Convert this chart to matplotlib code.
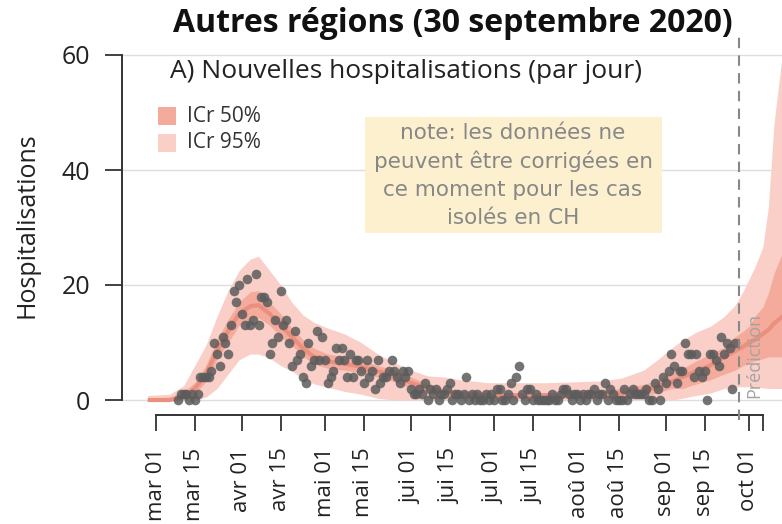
import matplotlib
matplotlib.use("Agg")
import matplotlib.pyplot as plt
import matplotlib.dates as mdates
from matplotlib.patches import Rectangle
import pandas as pd
import numpy as np

# ---------------- data ----------------
obs_start = "2020-03-09"
hosp_obs = [0, 1, 1, 1, 0, 1, 0, 1,
            4, 4, 4, 4, 5, 10, 8, 6, 11, 10, 8, 13, 19, 17, 20, 15, 13, 21, 13, 14, 22, 13,
            18, 18, 17, 8, 10, 14, 11, 19, 13, 14, 10,
            6, 12, 7, 8, 4, 3, 10, 6, 7, 12, 7, 11, 7, 3, 4, 5, 9, 7, 9, 7, 4, 8, 4, 7, 7,
            5, 3, 7, 4, 5, 2, 7, 3, 4, 4, 5, 7, 5, 4, 3, 5, 4, 5, 2, 1, 1, 2, 1, 3, 0, 2, 1, 2, 0,
            1, 1, 2, 3, 0, 1, 1, 0, 1, 4, 0, 1, 0, 1, 0, 0, 1, 0, 1, 0, 2, 2, 0, 0, 1,
            3, 0, 4, 6, 1, 0, 2, 2, 0, 1, 0, 0, 0, 0, 0, 1, 0, 0, 1, 2, 2, 1, 0, 1, 1,
            0, 1, 0, 1, 1, 2, 0, 1,
            1, 3, 0, 2, 1, 0, 0, 0, 2, 0, 1, 2, 1, 1, 1, 1, 2, 0, 0, 3, 2, 0, 4, 3, 5,
            8, 6, 3, 5, 5, 10, 8, 8, 4, 8, 5, 4, 5, 0, 8, 8, 7, 6, 11, 8, 10, 9, 2, 10]

band_dates = ["2020-02-27", "2020-03-06", "2020-03-11", "2020-03-15", "2020-03-19",
              "2020-03-23", "2020-03-27", "2020-03-31", "2020-04-04", "2020-04-07",
              "2020-04-11", "2020-04-15", "2020-04-19", "2020-04-23", "2020-04-27",
              "2020-05-02", "2020-05-08", "2020-05-14", "2020-05-20", "2020-05-26",
              "2020-06-01", "2020-06-07", "2020-06-13", "2020-06-19", "2020-06-29",
              "2020-07-19", "2020-08-08", "2020-08-16", "2020-08-24", "2020-08-29",
              "2020-09-03", "2020-09-07", "2020-09-12", "2020-09-17", "2020-09-22",
              "2020-09-26", "2020-09-29", "2020-10-01", "2020-10-03", "2020-10-06",
              "2020-10-08", "2020-10-10", "2020-10-13", "2020-10-15"]
median = [0, 0, 0.5, 2, 4.5, 8.5, 12, 15, 16.3, 16.5, 15, 13, 11, 9, 7.5,
          6.7, 6.3, 5.8, 5, 4.2, 3, 2, 1.3, 1, 0.8, 0.8, 1.0, 1.2, 1.7, 2.3,
          3.2, 4, 5, 6, 7.5, 8.5, 9.3, 10, 10.4, 11.5, 12.2, 13.3, 14.5, 15.5]
lo50 = [0, 0, 0, 1, 3.2, 7, 10, 13, 14, 14.3, 13, 11, 9.5, 7.6, 6.3,
        5.5, 5.2, 4.7, 4, 3.2, 2, 1.2, 0.7, 0.5, 0.3, 0.3, 0.4, 0.5, 0.8, 1.2,
        2, 2, 2.8, 3.5, 4.5, 5.2, 6, 6.4, 6.8, 7.2, 7.5, 7.5, 7.5, 7.6]
hi50 = [0.3, 0.5, 1.5, 3, 6, 10.5, 14, 17, 18.8, 19, 17, 15, 12.5, 10.5, 9,
        8, 7.5, 7, 6, 5.2, 4, 2.8, 2, 1.6, 1.3, 1.3, 1.6, 2, 2.7, 3.5,
        4.9, 5.5, 6.8, 8, 9.2, 11, 12, 12.8, 14.5, 16.2, 18.6, 22, 25.5, 29]
lo95 = [0, 0, 0, 0, 0.5, 2, 4.5, 7, 8, 8, 7.3, 6, 5, 3.8, 2.8,
        2.2, 1.5, 1, 0.3, 0, 0, 0, 0, 0, 0, 0, 0, 0, 0, 0,
        0, 0.3, 0.8, 1.2, 2, 2.3, 2.3, 2.3, 2.2, 2.1, 2, 2, 2, 2]
hi95 = [0.8, 1.0, 2.5, 6, 9.5, 14.5, 19, 22.5, 24.5, 25, 22.5, 20, 17, 14.8, 13.5,
        12.5, 11.5, 10, 8, 6.5, 5.2, 4.2, 4, 3.5, 3, 3, 3.3, 3.8, 5.2, 7,
        9, 10.4, 11.8, 12.8, 14.5, 16.5, 19, 21, 23, 26.6, 33.6, 48, 60, 70]

tick_dates = ["2020-03-01", "2020-03-15", "2020-04-01", "2020-04-15", "2020-05-01",
              "2020-05-15", "2020-06-01", "2020-06-15", "2020-07-01", "2020-07-15",
              "2020-08-01", "2020-08-15", "2020-09-01", "2020-09-15", "2020-10-01"]
tick_labels = ["mar 01", "mar 15", "avr 01", "avr 15", "mai 01", "mai 15",
               "jui 01", "jui 15", "jul 01", "jul 15", "aoû 01", "aoû 15",
               "sep 01", "sep 15", "oct 01"]
y_ticks = [0, 20, 40, 60]
prediction_date = "2020-09-27 12:00"
axis_end_date = "2020-10-06"

title = "Autres régions (30 septembre 2020)"
subtitle = "A) Nouvelles hospitalisations (par jour)"
ylabel = "Hospitalisations"
note = ["note: les données ne", "peuvent être corrigées en",
        "ce moment pour les cas", "isolés en CH"]

# ---------------- style ----------------
C95 = "#f9cfc8"
C50 = "#f5ab9c"
CMED = "#eb8f7f"
CPT = "#5c5c5c"
FONT = "Open Sans"

W, H = 782, 524
fig = plt.figure(figsize=(W / 100, H / 100), dpi=100)
ax = fig.add_axes([122 / W, (H - 410) / H, 660 / W, 370 / H])

obs_dates = pd.date_range(obs_start, periods=len(hosp_obs), freq="D")
bd = pd.to_datetime(band_dates)

ax.fill_between(bd, lo95, hi95, color=C95, lw=0, zorder=1)
ax.fill_between(bd, lo50, hi50, color=C50, lw=0, zorder=2)
ax.plot(bd, median, color=CMED, lw=3, zorder=3, solid_capstyle="butt")
ax.scatter(obs_dates, hosp_obs, s=48, color=CPT, alpha=0.85, lw=0, zorder=4)

# limits
x0 = mdates.date2num(pd.Timestamp("2020-03-01"))
ppd = 2.771
ax.set_xlim(x0 - 34 / ppd, x0 + 626 / ppd)
ax.set_ylim(-10 / 5.75, 360 / 5.75)

# grid
ax.set_yticks(y_ticks)
ax.yaxis.grid(True, color="#dddddd", lw=1)
ax.set_axisbelow(True)

# spines
for s in ["top", "right"]:
    ax.spines[s].set_visible(False)
ax.spines["left"].set_bounds(0, 60)
ax.spines["left"].set_color("#333333")
ax.spines["left"].set_linewidth(1.4)
ax.spines["bottom"].set_position(("outward", 3.6))
ax.spines["bottom"].set_bounds(x0, mdates.date2num(pd.Timestamp(axis_end_date)))
ax.spines["bottom"].set_color("#333333")
ax.spines["bottom"].set_linewidth(1.4)

ax.set_xticks(pd.to_datetime(tick_dates))
ax.set_xticklabels(tick_labels, rotation=90, fontsize=16, family=FONT, color="#222222")
ax.set_xticks([mdates.date2num(pd.Timestamp(axis_end_date))], minor=True)
ax.tick_params(axis="x", which="both", length=11.5, width=1.3, color="#333333", pad=12)
ax.tick_params(axis="y", length=12, width=1.3, color="#333333", pad=11, labelsize=18)
for lab in ax.get_yticklabels():
    lab.set_family(FONT)
    lab.set_color("#222222")

ax.set_ylabel(ylabel, fontsize=18, family=FONT, color="#222222", labelpad=16)

# prediction line
pdn = pd.Timestamp(prediction_date)
ax.plot([pdn, pdn], [-3.5, 63.5], color="#888888", lw=1.5, ls=(0, (5, 3.5)),
        clip_on=False, zorder=5)
ax.text(pd.Timestamp("2020-10-02 20:00"), 0.3, "Prédiction", rotation=90, ha="center",
        va="bottom", fontsize=13, color="#a3a3a3", family=FONT, zorder=6)

# titles
fig.text(453 / W, 1 - 24 / H, title, ha="center", va="center", fontsize=23,
         fontweight="bold", family=FONT, color="#111111")
fig.text(406 / W, 1 - 71 / H, subtitle, ha="center", va="center", fontsize=19,
         family=FONT, color="#222222")

# legend
for i, (lab, col) in enumerate([("ICr 50%", C50), ("ICr 95%", C95)]):
    yc = 116 + i * 26.5
    fig.add_artist(Rectangle((158 / W, 1 - (yc + 9) / H), 18 / W, 18 / H,
                             transform=fig.transFigure, color=col, lw=0))
    fig.text(187 / W, 1 - yc / H, lab, ha="left", va="center", fontsize=15,
             family=FONT, color="#333333")

# note box
fig.add_artist(Rectangle((365 / W, 1 - 233 / H), 297 / W, 116 / H,
                         transform=fig.transFigure, color="#fdf0cf", lw=0, zorder=0.5))
for i, line in enumerate(note):
    fig.text(513 / W, 1 - (133 + i * 28.5) / H, line, ha="center", va="center",
             fontsize=15.5, family="DejaVu Sans", color="#878787")

fig.savefig("out.png", dpi=100)
